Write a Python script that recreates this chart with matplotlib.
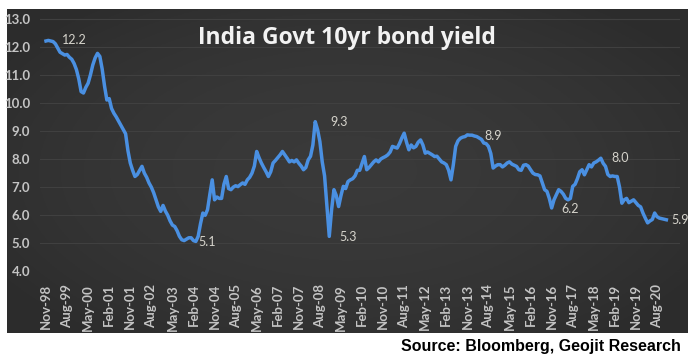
import numpy as np
import matplotlib
matplotlib.use('Agg')
import matplotlib.pyplot as plt

# monthly 10yr yield, Nov-98 .. Dec-20
yield_1998 = [12.20, 12.22]
yield_1999 = [12.20, 12.18, 12.10, 11.95, 11.80, 11.75, 11.70, 11.72, 11.62, 11.55, 11.40, 11.18]
yield_2000 = [10.85, 10.40, 10.35, 10.55, 10.70, 11.00, 11.35, 11.60, 11.76, 11.65, 11.20, 10.60]
yield_2001 = [10.10, 10.15, 9.80, 9.63, 9.50, 9.35, 9.20, 9.05, 8.90, 8.30, 7.86, 7.60]
yield_2002 = [7.38, 7.45, 7.60, 7.74, 7.50, 7.35, 7.15, 7.00, 6.80, 6.55, 6.30, 6.14]
yield_2003 = [6.35, 6.15, 6.00, 5.80, 5.65, 5.60, 5.45, 5.25, 5.13, 5.10, 5.15, 5.20]
yield_2004 = [5.20, 5.10, 5.07, 5.25, 5.70, 6.08, 6.00, 6.20, 6.75, 7.26, 6.55, 6.65]
yield_2005 = [6.60, 6.60, 7.10, 7.38, 6.95, 6.91, 7.00, 7.05, 7.02, 7.09, 7.15, 7.10]
yield_2006 = [7.26, 7.35, 7.50, 7.75, 8.27, 8.05, 7.86, 7.70, 7.55, 7.38, 7.55, 7.86]
yield_2007 = [7.95, 8.05, 8.15, 8.27, 8.15, 8.03, 7.90, 7.95, 7.90, 7.97, 7.85, 7.75]
yield_2008 = [7.62, 7.70, 7.97, 8.10, 8.50, 9.33, 9.05, 8.62, 7.90, 7.40, 6.30, 5.25]
yield_2009 = [6.20, 6.91, 6.70, 6.31, 6.70, 7.03, 6.95, 7.20, 7.26, 7.30, 7.40, 7.60]
yield_2010 = [7.60, 7.85, 8.09, 7.62, 7.70, 7.80, 7.90, 7.97, 7.90, 8.00, 8.05, 8.09]
yield_2011 = [8.15, 8.25, 8.45, 8.42, 8.39, 8.55, 8.75, 8.92, 8.60, 8.33, 8.50, 8.40]
yield_2012 = [8.45, 8.60, 8.68, 8.50, 8.21, 8.25, 8.20, 8.15, 8.09, 8.10, 8.00, 7.90]
yield_2013 = [7.86, 7.80, 7.60, 7.26, 7.80, 8.45, 8.65, 8.74, 8.78, 8.80, 8.86, 8.85]
yield_2014 = [8.85, 8.82, 8.80, 8.75, 8.70, 8.57, 8.55, 8.45, 8.20, 7.68, 7.75, 7.80]
yield_2015 = [7.80, 7.72, 7.78, 7.86, 7.90, 7.82, 7.78, 7.74, 7.62, 7.60, 7.78, 7.80]
yield_2016 = [7.75, 7.62, 7.50, 7.45, 7.44, 7.40, 7.15, 6.91, 6.85, 6.60, 6.26, 6.55]
yield_2017 = [6.73, 6.91, 6.85, 6.75, 6.60, 6.55, 6.60, 7.03, 7.10, 7.30, 7.55, 7.62]
yield_2018 = [7.44, 7.62, 7.80, 7.72, 7.86, 7.90, 7.96, 8.03, 7.85, 7.74, 7.45, 7.38]
yield_2019 = [7.40, 7.38, 7.38, 7.00, 6.43, 6.55, 6.60, 6.45, 6.50, 6.55, 6.45, 6.35]
yield_2020 = [6.30, 6.08, 5.90, 5.73, 5.80, 5.85, 6.08, 5.95, 5.90, 5.88, 5.86, 5.84]

tick_labels = ['Nov-98', 'Aug-99', 'May-00', 'Feb-01', 'Nov-01', 'Aug-02', 'May-03',
               'Feb-04', 'Nov-04', 'Aug-05', 'May-06', 'Feb-07', 'Nov-07', 'Aug-08',
               'May-09', 'Feb-10', 'Nov-10', 'Aug-11', 'May-12', 'Feb-13', 'Nov-13',
               'Aug-14', 'May-15', 'Feb-16', 'Nov-16', 'Aug-17', 'May-18', 'Feb-19',
               'Nov-19', 'Aug-20']
tick_step = 9

# data labels: month index -> text
label_idx = [1, 64, 115, 121, 180, 216, 237, 265]
label_txt = ['12.2', '5.1', '9.3', '5.3', '8.9', '6.2', '8.0', '5.9']

yields = np.array(yield_1998 + yield_1999 + yield_2000 + yield_2001 + yield_2002 +
                  yield_2003 + yield_2004 + yield_2005 + yield_2006 + yield_2007 +
                  yield_2008 + yield_2009 + yield_2010 + yield_2011 + yield_2012 +
                  yield_2013 + yield_2014 + yield_2015 + yield_2016 + yield_2017 +
                  yield_2018 + yield_2019 + yield_2020)
months = np.arange(len(yields))

W, H = 699, 363
fig = plt.figure(figsize=(W / 100, H / 100), dpi=100, facecolor='white')

# dark panel with a soft vignette
px0, py0, px1, py1 = 7, 9, 688, 333
bg = fig.add_axes([px0 / W, 1 - py1 / H, (px1 - px0) / W, (py1 - py0) / H])
gx, gy = np.meshgrid(np.linspace(-1, 1, 300), np.linspace(-1, 1, 150))
shade = 0.225 - 0.05 * np.clip(gx ** 2 * 0.7 + gy ** 2 * 0.6, 0, 1)
bg.imshow(np.dstack([shade, shade, shade]), aspect='auto', extent=[0, 1, 0, 1])
bg.set_axis_off()

# plot area in pixels
ax_l, ax_r, ax_t, ax_b = 40, 680, 18.5, 271.5
ax = fig.add_axes([ax_l / W, 1 - ax_b / H, (ax_r - ax_l) / W, (ax_b - ax_t) / H])
ax.set_facecolor('none')
ppm = 2.341  # pixels per month
ax.set_xlim(-(46 - ax_l) / ppm, (ax_r - 46) / ppm)
ax.set_ylim(4, 13)

ax.grid(axis='y', color='#404040', linewidth=0.8)
ax.set_axisbelow(True)
for s in ax.spines.values():
    s.set_visible(False)

ax.plot(months, yields, color='#4a90e2', linewidth=2.5, solid_joinstyle='round', zorder=3)

ax.set_yticks(np.arange(4, 13.1, 1))
ax.set_yticklabels([f'{v:.1f}' for v in np.arange(4, 13.1, 1)])
ax.set_xticks(np.arange(0, len(tick_labels) * tick_step, tick_step))
ax.set_xticklabels(tick_labels, rotation=90)
ax.tick_params(axis='both', length=0, colors='#c4c4c4', labelsize=9.5)
ax.tick_params(axis='y', pad=7)
ax.tick_params(axis='x', pad=9)
for t in ax.get_xticklabels() + ax.get_yticklabels():
    t.set_fontfamily('Lato')
    t.set_fontweight('bold')

offsets = {'12.2': (14, 0), '5.1': (3, -1), '9.3': (15, 0), '5.3': (10, -1),
           '8.9': (17, -1), '6.2': (10, -1), '8.0': (11, 0), '5.9': (5, 0)}
for i, txt in zip(label_idx, label_txt):
    ax.annotate(txt, (months[i], yields[i]), xytext=offsets[txt], textcoords='offset pixels',
                ha='left', va='center', fontsize=9, color='#d6d4cc', family='Lato',
                annotation_clip=False, zorder=4)

fig.text(347 / W, 1 - 38 / H, 'India Govt 10yr bond yield', ha='center', va='center',
         fontsize=16.5, fontweight='bold', color='#f2f2f2', family='Open Sans')

fig.text(681 / W, 1 - 347 / H, 'Source: Bloomberg, Geojit Research', ha='right', va='center',
         fontsize=11.5, fontweight='bold', color='black', family='Liberation Sans')

fig.savefig('out.png', dpi=100, facecolor='white')
